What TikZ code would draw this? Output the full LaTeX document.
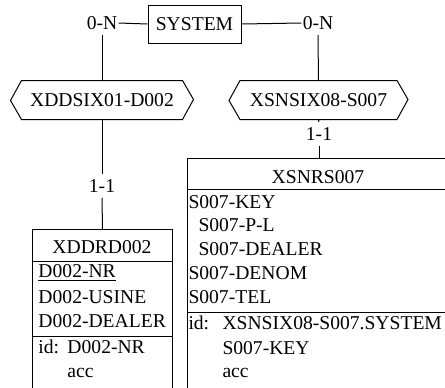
\documentclass[tikz,border=0pt]{standalone}
\usepackage{fontspec}
\setmainfont{Liberation Serif}
\usetikzlibrary{positioning}

\tikzset{
    card/.style={inner xsep=0.5pt, inner ysep=2.5pt},
    entity/.style={draw, anchor=north west, inner sep=0pt},
    row/.style={anchor=west, inner sep=0pt},
    hexbox/.style={minimum height=19pt, inner sep=0pt}
}

\begin{document}
\begin{tikzpicture}[x=0.5pt, y=-0.5pt, line width=0.5pt, font=\fontsize{9.8}{12}\selectfont]
    \useasboundingbox (0,0) rectangle (445,387);
    % The system box at the top and its two cardinalities
        \node[draw, minimum width=46.5pt, minimum height=19pt, inner sep=0pt] (system) at (194.5,24) {SYSTEM};
        \node[card] (ln) at (102,23) {0-N};
        \node[card] (rn) at (318,23) {0-N};
    % The two rel-types, drawn as hexagons round an invisible box
        \node[hexbox, minimum width=80pt] (xddsix) at (102,100) {XDDSIX01-D002};
        \node[hexbox, minimum width=78pt] (xsnsix) at (318.5,100) {XSNSIX08-S007};
        \draw (xddsix.north west) -- (xddsix.north east) -- ++(11,19) -- (xddsix.south east) -- (xddsix.south west) -- ++(-11,-19) -- cycle;
        \draw (xsnsix.north west) -- (xsnsix.north east) -- ++(11,19) -- (xsnsix.south east) -- (xsnsix.south west) -- ++(-11,-19) -- cycle;
    % Lower cardinalities
        \node[card] (l11) at (102,186) {1-1};
        \node[card] (r11) at (319,134) {1-1};
    % The two entity boxes, they run off the bottom (and the right one off the side)
        \node[entity, minimum width=70pt, minimum height=85.5pt] (xddrd) at (32,229) {};
        \node[entity, minimum width=136.5pt, minimum height=121pt] (xsnrs) at (187,158) {};
        \draw (32,261) -- (172,261);
        \draw (32,336) -- (172,336);
        \draw (187,189) -- (460,189);
        \draw (187,312) -- (460,312);
    % Connectors between the nodes
        \draw (system.west) -- (ln.east);
        \draw (system.east) -- (rn.west);
        \draw (ln.south) -- (xddsix.north);
        \draw (rn.south) -- (xsnsix.north);
        \draw (xddsix.south) -- (l11.north);
        \draw (l11.south) -- (xddrd.north);
        \draw (xsnsix.south) -- (r11.north);
        \draw (r11.south) -- (319,158);
    % Below nodes are the rows of XDDRD002.
        \node[] (xddrdname) at (102,247) {XDDRD002};
        \node[row] (d2nr) at (38,273) {\underline{D002-NR}};
        \node[row] (d2usine) at (38,297) {D002-USINE};
        \node[row] (d2dealer) at (38,321) {D002-DEALER};
        \node[row] (d2id) at (38,347) {id:};
        \node[row] (d2idnr) at (67,347) {D002-NR};
        \node[row] (d2acc) at (67,373) {acc};
    % Below nodes are the rows of XSNRS007.
        \node[] (xsnrsname) at (318,177) {XSNRS007};
        \node[row] (s7key) at (188,202) {S007-KEY};
        \node[row] (s7pl) at (198,225) {S007-P-L};
        \node[row] (s7dealer) at (198,249) {S007-DEALER};
        \node[row] (s7denom) at (188,273) {S007-DENOM};
        \node[row] (s7tel) at (188,297) {S007-TEL};
        \node[row] (s7id) at (188,323) {id:};
        \node[row] (s7idsys) at (222,323) {XSNSIX08-S007.SYSTEM};
        \node[row] (s7idkey) at (222,348) {S007-KEY};
        \node[row] (s7acc) at (222,373) {acc};
\end{tikzpicture}
\end{document}
